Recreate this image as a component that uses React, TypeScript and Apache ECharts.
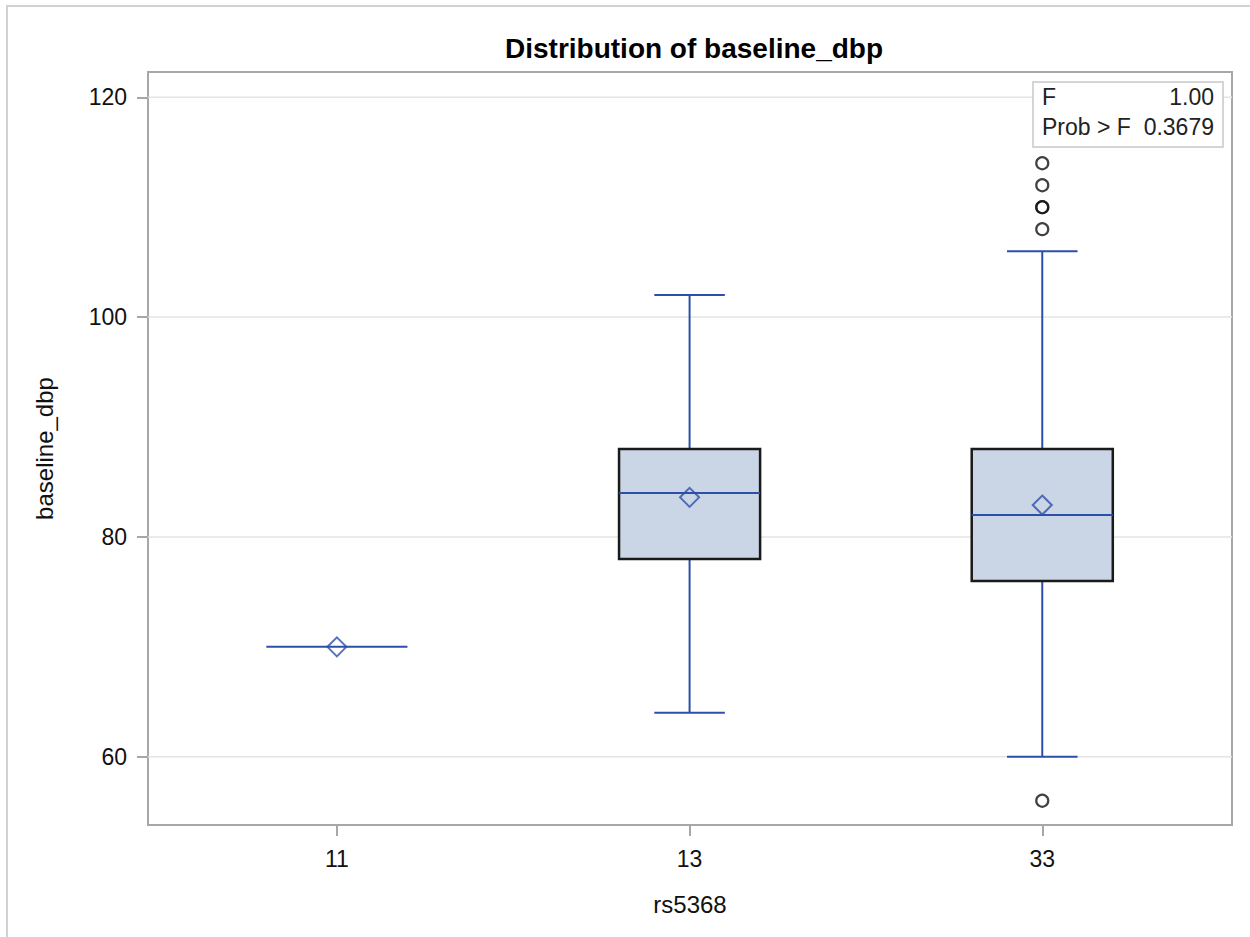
import React, { useEffect, useRef } from "react";
import * as echarts from "echarts";

const categories = ["11", "13", "33"];
// per group: [min, q1, median, q3, max]
const boxMin = [70, 64, 60];
const boxQ1 = [70, 78, 76];
const boxMedian = [70, 84, 82];
const boxQ3 = [70, 88, 88];
const boxMax = [70, 102, 106];
const means = [70, 83.6, 82.9];
const outlierGroup = [2, 2, 2, 2, 2, 2];
const outlierValues = [114, 112, 110, 110, 108, 56];
const yTicks = [60, 80, 100, 120];
const statLabels = ["F", "Prob > F"];
const statValues = ["1.00", "0.3679"];

const FONT = "'Liberation Sans', Arial, sans-serif";
const BLUE = "#2c4fa9";
const FRAME = "#a5a8ab";

export default function App() {
  const ref = useRef<HTMLDivElement>(null);
  useEffect(() => {
    if (!ref.current) return;
    const chart = echarts.init(ref.current, undefined, { renderer: "svg" });
    const catIdx = categories.map((_, i) => i);
    const boxData = catIdx.map((i) => [i, boxMin[i], boxQ1[i], boxMedian[i], boxQ3[i], boxMax[i]]);
    const option: any = {
      animation: false,
      backgroundColor: "#fff",
      title: {
        text: "Distribution of baseline_dbp",
        left: 689,
        top: 29,
        textAlign: "center",
        textStyle: { fontFamily: FONT, fontSize: 28, fontWeight: "bold", color: "#000" },
      },
      grid: {
        left: 148,
        top: 72,
        right: 18,
        bottom: 112,
        show: true,
        borderColor: FRAME,
        borderWidth: 2,
        backgroundColor: "transparent",
      },
      xAxis: {
        type: "value",
        min: -0.5356,
        max: 2.538,
        axisLine: { show: true, onZero: false, lineStyle: { color: FRAME, width: 2 } },
        splitLine: { show: false },
        axisTick: { show: true, customValues: catIdx, length: 11, lineStyle: { color: FRAME, width: 2 } },
        axisLabel: {
          customValues: catIdx,
          formatter: (v: number) => categories[Math.round(v)] ?? "",
          margin: 22,
          fontSize: 23,
          fontFamily: FONT,
          color: "#111",
        },
        name: "rs5368",
        nameLocation: "middle",
        nameGap: 67,
        nameTextStyle: { fontSize: 24, fontFamily: FONT, color: "#111" },
      },
      yAxis: {
        type: "value",
        min: 53.79,
        max: 122.3,
        axisLine: { show: true, onZero: false, lineStyle: { color: FRAME, width: 2 } },
        splitLine: { show: false },
        axisTick: { show: true, customValues: yTicks, length: 11, lineStyle: { color: FRAME, width: 2 } },
        axisLabel: {
          customValues: yTicks,
          margin: 21,
          fontSize: 23,
          fontFamily: FONT,
          color: "#111",
        },
        name: "baseline_dbp",
        nameLocation: "middle",
        nameGap: 92,
        nameTextStyle: { fontSize: 24, fontFamily: FONT, color: "#111" },
      },
      graphic: [
        {
          type: "rect",
          shape: { x: 7, y: 6, width: 1400, height: 1100 },
          style: { fill: "none", stroke: "#d2d2d2", lineWidth: 2 },
          silent: true,
          z: 0,
        },
        {
          type: "rect",
          z: 100,
          shape: { x: 1033, y: 82, width: 190, height: 65 },
          style: { fill: "#fff", stroke: "#c8c8c8", lineWidth: 1.5 },
        },
        ...statLabels.map((t, k) => ({
          type: "text",
          z: 101,
          x: 1042,
          y: 97 + k * 30,
          style: { text: t, fontSize: 23, fontFamily: FONT, fill: "#222", textVerticalAlign: "middle", textAlign: "left" },
        })),
        ...statValues.map((t, k) => ({
          type: "text",
          z: 101,
          x: 1214,
          y: 97 + k * 30,
          style: { text: t, fontSize: 23, fontFamily: FONT, fill: "#222", textVerticalAlign: "middle", textAlign: "right" },
        })),
      ],
      series: [
        {
          type: "custom",
          name: "grid",
          z: 1,
          silent: true,
          data: yTicks.map((v) => [0, v]),
          renderItem: (params: any, api: any) => {
            const y = api.coord([0, api.value(1)])[1];
            const cs = params.coordSys;
            return {
              type: "line",
              shape: { x1: cs.x, y1: y, x2: cs.x + cs.width, y2: y },
              style: { stroke: "#e4e4e4", lineWidth: 1.5 },
            };
          },
        },
        {
          type: "custom",
          name: "box",
          z: 2,
          data: boxData,
          renderItem: (params: any, api: any) => {
            const i = api.value(0);
            const c = (v: number) => api.coord([i, v]);
            const pMin = c(api.value(1));
            const pQ1 = c(api.value(2));
            const pMd = c(api.value(3));
            const pQ3 = c(api.value(4));
            const pMax = c(api.value(5));
            const halfBox = api.size([0.4, 0])[0] / 2;
            const halfCap = api.size([0.2, 0])[0] / 2;
            const x = pMd[0];
            const blue = { stroke: BLUE, lineWidth: 2 };
            const children: any[] = [];
            if (pMax[1] < pQ3[1]) {
              children.push({ type: "line", shape: { x1: x, y1: pQ3[1], x2: x, y2: pMax[1] }, style: blue });
              children.push({ type: "line", shape: { x1: x - halfCap, y1: pMax[1], x2: x + halfCap, y2: pMax[1] }, style: blue });
            }
            if (pMin[1] > pQ1[1]) {
              children.push({ type: "line", shape: { x1: x, y1: pQ1[1], x2: x, y2: pMin[1] }, style: blue });
              children.push({ type: "line", shape: { x1: x - halfCap, y1: pMin[1], x2: x + halfCap, y2: pMin[1] }, style: blue });
            }
            if (pQ1[1] > pQ3[1]) {
              children.push({
                type: "rect",
                shape: { x: x - halfBox, y: pQ3[1], width: halfBox * 2, height: pQ1[1] - pQ3[1] },
                style: { fill: "#cad5e5", stroke: "#1a1a1a", lineWidth: 2.5 },
              });
            }
            children.push({ type: "line", shape: { x1: x - halfBox, y1: pMd[1], x2: x + halfBox, y2: pMd[1] }, style: blue });
            return { type: "group", children };
          },
        },
        {
          type: "scatter",
          name: "mean",
          z: 3,
          symbol: "diamond",
          symbolSize: [19, 19],
          data: catIdx.map((i) => [i, means[i]]),
          itemStyle: { color: "rgba(0,0,0,0)", borderColor: BLUE, borderWidth: 2 },
        },
        {
          type: "scatter",
          name: "outliers",
          z: 3,
          symbol: "circle",
          symbolSize: 12,
          data: outlierGroup.map((g, k) => [g, outlierValues[k]]),
          itemStyle: { color: "rgba(0,0,0,0)", borderColor: "#111", borderWidth: 2.2 },
        },
      ],
    };
    chart.setOption(option);
    return () => chart.dispose();
  }, []);
  return <div ref={ref} style={{ position: "fixed", left: 0, top: 0, width: 1250, height: 937 }} />;
}
